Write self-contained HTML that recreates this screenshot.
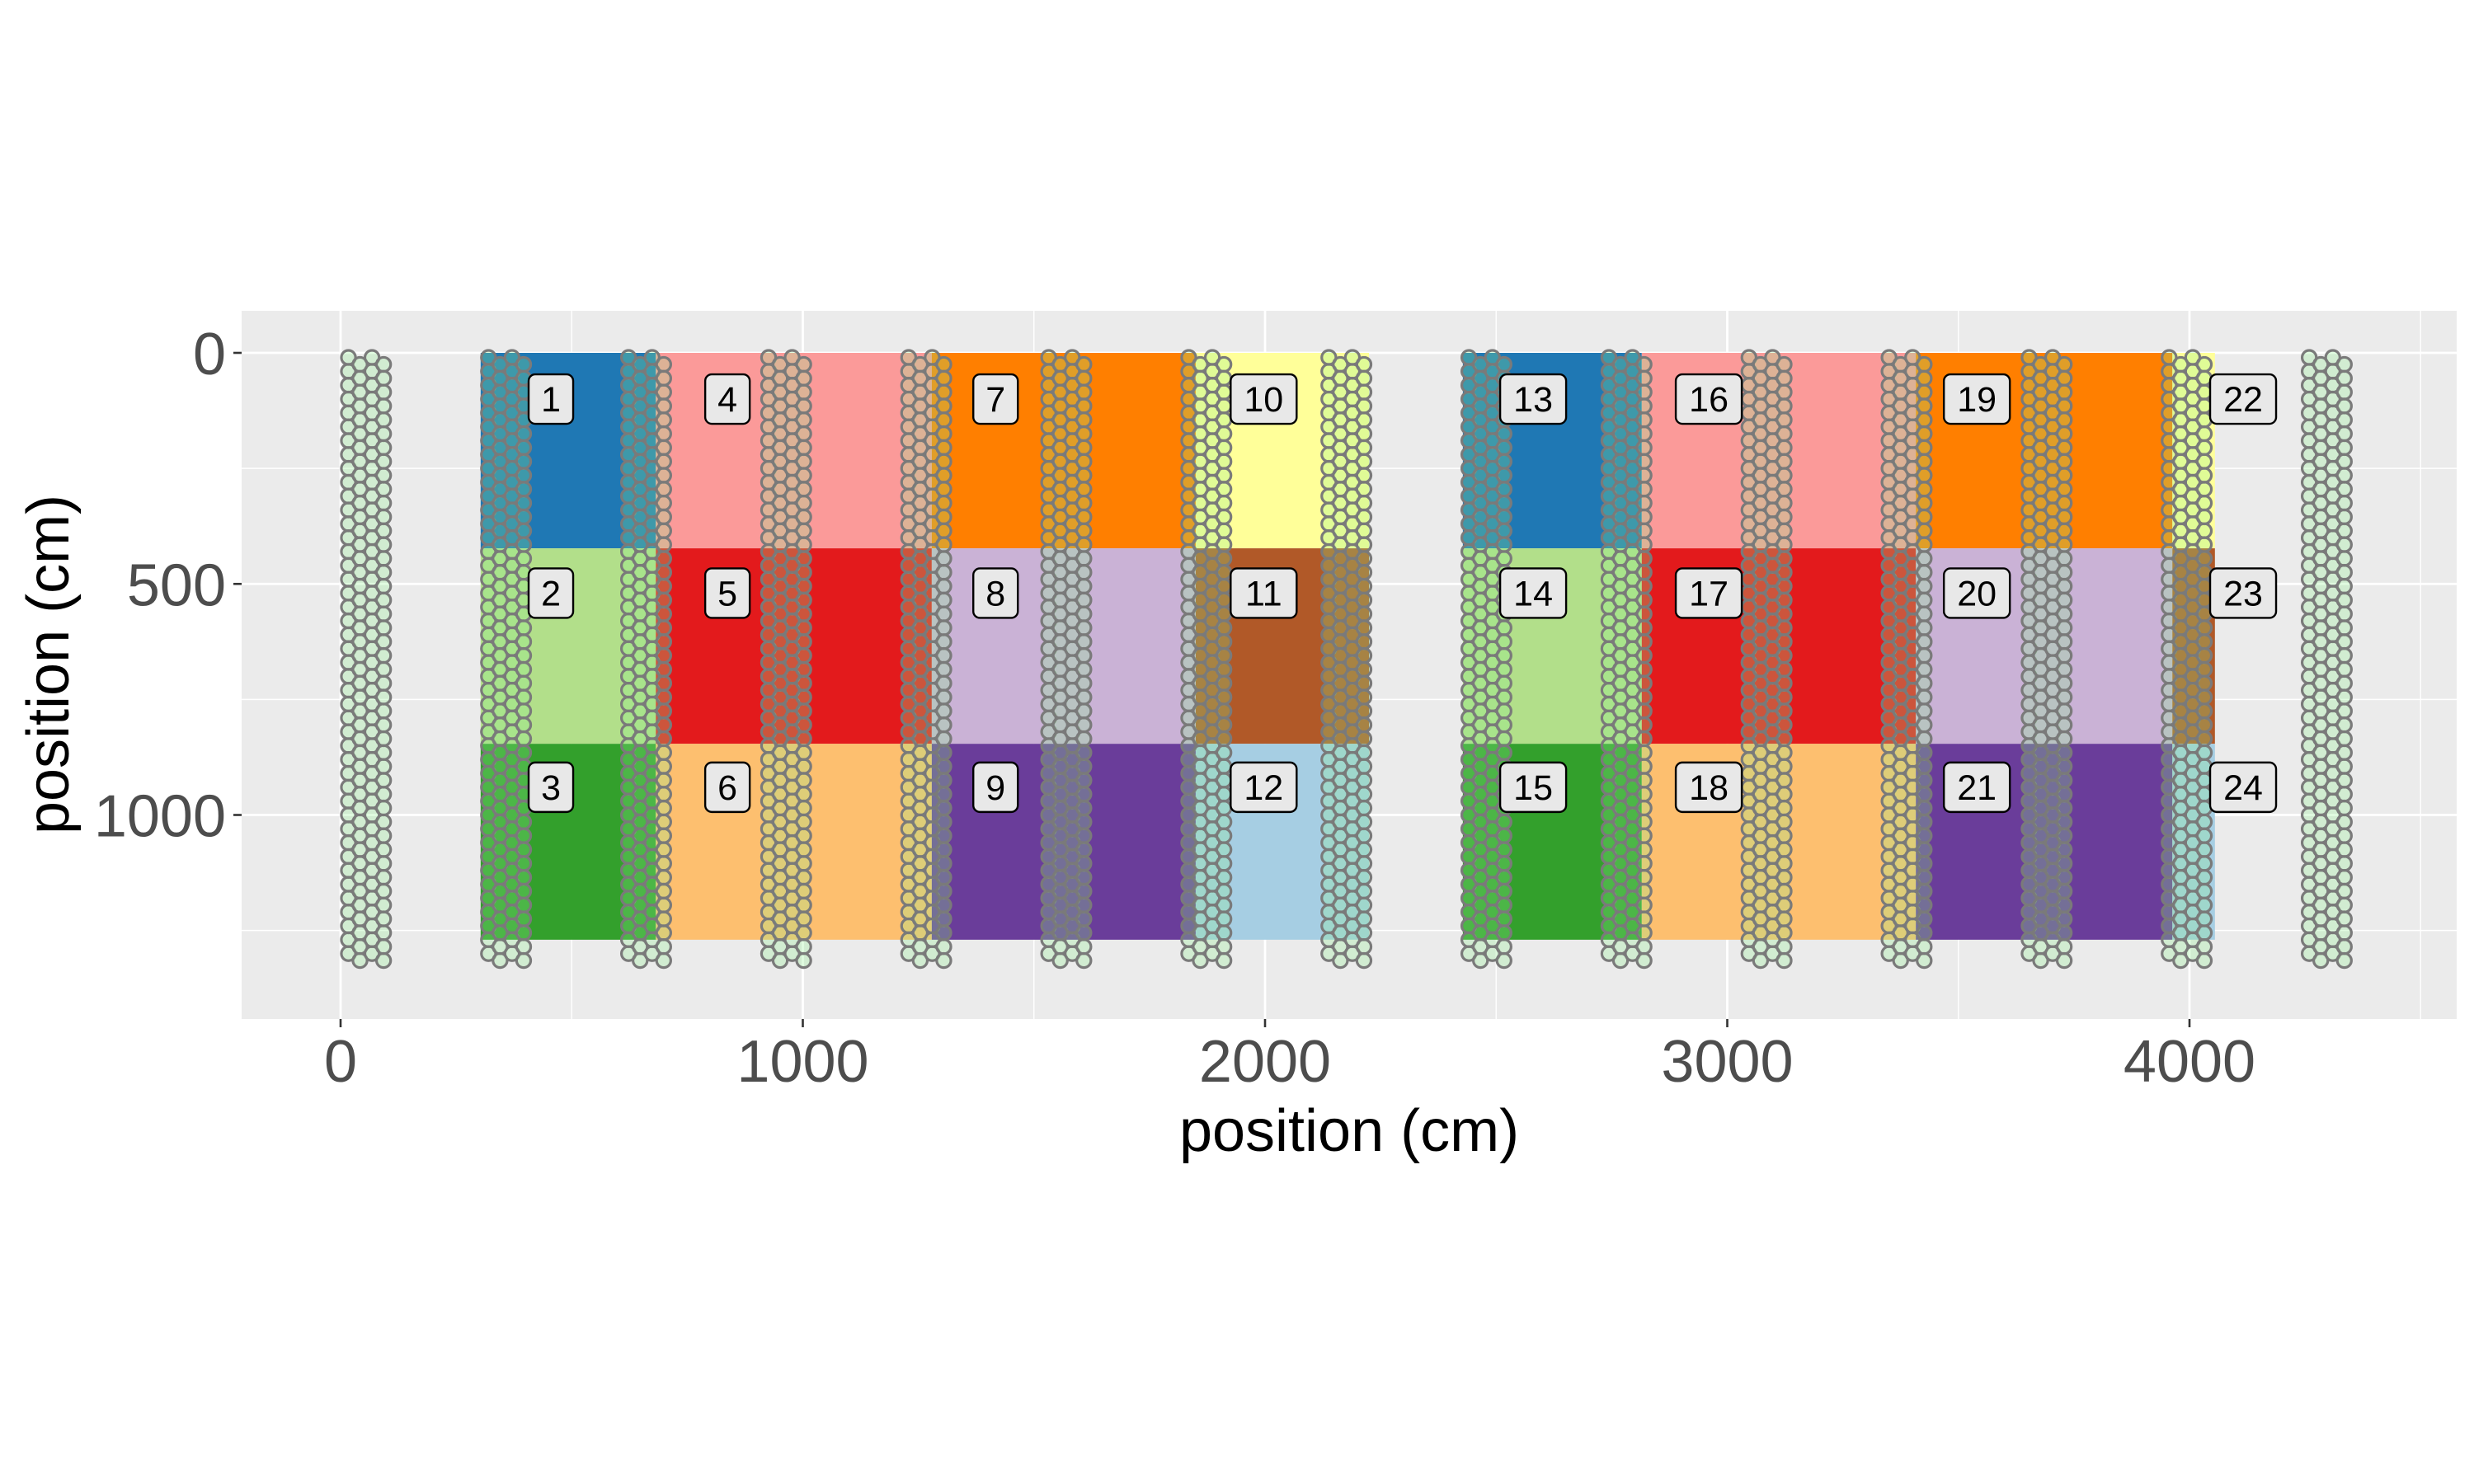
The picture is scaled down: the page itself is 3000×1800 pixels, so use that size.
<!DOCTYPE html>
<html><head><meta charset="utf-8"><style>
html,body{margin:0;padding:0;background:#fff;}
svg{display:block;font-family:"Liberation Sans",sans-serif;}
</style></head><body>
<svg id="chart" width="3000" height="1800" viewBox="0 0 3000 1800"></svg>
<script>
const xBreaks=[0,1000,2000,3000,4000];
const xMinor=[500,1500,2500,3500,4500];
const yBreaks=[0,500,1000];
const yMinor=[250,750,1250];
const plotIds=[1,2,3,4,5,6,7,8,9,10,11,12,13,14,15,16,17,18,19,20,21,22,23,24];
const plotXmin=[303,303,303,682,682,682,1279,1279,1279,1850,1850,1850,2428,2428,2428,2815,2815,2815,3408,3408,3408,3963,3963,3963];
const plotXmax=[682,682,682,1279,1279,1279,1850,1850,1850,2225,2225,2225,2815,2815,2815,3408,3408,3408,3963,3963,3963,4055,4055,4055];
const plotYmin=[0,423,846,0,423,846,0,423,846,0,423,846,0,423,846,0,423,846,0,423,846,0,423,846];
const plotYmax=[423,846,1270,423,846,1270,423,846,1270,423,846,1270,423,846,1270,423,846,1270,423,846,1270,423,846,1270];
const plotColors=["#1F78B4","#B2DF8A","#33A02C","#FB9A99","#E31A1C","#FDBF6F","#FF7F00","#CAB2D6","#6A3D9A","#FFFF99","#B15928","#A6CEE3","#1F78B4","#B2DF8A","#33A02C","#FB9A99","#E31A1C","#FDBF6F","#FF7F00","#CAB2D6","#6A3D9A","#FFFF99","#B15928","#A6CEE3"];
const labelX=[455,455,455,837,837,837,1417,1417,1417,1997,1997,1997,2580,2580,2580,2960,2960,2960,3540,3540,3540,4116,4116,4116];
const labelY=[100,520,940,100,520,940,100,520,940,100,520,940,100,520,940,100,520,940,100,520,940,100,520,940];
const stripCenters=[55,358,661,964,1267,1570,1873,2176,2479,2782,3085,3388,3691,3994,4297];
const subOffsets=[-38,-13,13,38];
const subStart=[10,25,10,25];
const dotSpacing=30;
const dotEnd=1315;

const NS="http://www.w3.org/2000/svg";
const svg=document.getElementById('chart');
const PX=293,PY=377,PW=2686,PH=859;
const sc=0.5605;
const X=v=>413+v*sc;
const Y=v=>428+v*sc;
function mk(tag,attrs,parent){const e=document.createElementNS(NS,tag);for(const k in attrs)e.setAttribute(k,attrs[k]);(parent||svg).appendChild(e);return e;}

const bg=mk('rect',{x:PX,y:PY,width:PW,height:PH,fill:'#EBEBEB'});


xMinor.forEach(v=>{if(X(v)<PX+PW){const l=mk('line',{x1:X(v),x2:X(v),y1:PY,y2:PY+PH,stroke:'#fff','stroke-width':1.4});

}});
yMinor.forEach(v=>{const l=mk('line',{x1:PX,x2:PX+PW,y1:Y(v),y2:Y(v),stroke:'#fff','stroke-width':1.4});

});
xBreaks.forEach(v=>{const l=mk('line',{x1:X(v),x2:X(v),y1:PY,y2:PY+PH,stroke:'#fff','stroke-width':2.8});

});
yBreaks.forEach(v=>{const l=mk('line',{x1:PX,x2:PX+PW,y1:Y(v),y2:Y(v),stroke:'#fff','stroke-width':2.8});

});

plotIds.forEach((id,i)=>{const r=mk('rect',{x:X(plotXmin[i]),y:Y(plotYmin[i]),width:X(plotXmax[i])-X(plotXmin[i]),height:Y(plotYmax[i])-Y(plotYmin[i]),fill:plotColors[i]});

});

stripCenters.forEach((c,s)=>{subOffsets.forEach((o,k)=>{for(let y=subStart[k];y<=dotEnd;y+=dotSpacing){
const d=mk('ellipse',{cx:X(c+o),cy:Y(y),rx:8.6,ry:8.6,fill:'rgba(143,240,143,0.28)',stroke:'#7a7a7a','stroke-width':3.2});

}});});

plotIds.forEach((id,i)=>{const t=String(id);const w=t.length>1?80:54;const h=60;const cx=X(labelX[i]),cy=Y(labelY[i]);
const g=mk('g',{});


mk('rect',{x:cx-w/2,y:cy-h/2,width:w,height:h,rx:8,fill:'#E8E8E8',stroke:'#000','stroke-width':2.4},g);
const tx=mk('text',{x:cx,y:cy+15,'text-anchor':'middle','font-size':43,fill:'#000'},g);tx.textContent=t;});

xBreaks.forEach(v=>{mk('line',{x1:X(v),x2:X(v),y1:PY+PH,y2:PY+PH+10,stroke:'#333','stroke-width':2.6});
const t=mk('text',{x:X(v),y:1312,'text-anchor':'middle','font-size':72,fill:'#4D4D4D'});t.textContent=v;

});
yBreaks.forEach(v=>{mk('line',{x1:PX-10,x2:PX,y1:Y(v),y2:Y(v),stroke:'#333','stroke-width':2.6});
const t=mk('text',{x:274,y:Y(v)+26,'text-anchor':'end','font-size':72,fill:'#4D4D4D'});t.textContent=v;

});
const xt=mk('text',{x:PX+PW/2,y:1396,'text-anchor':'middle','font-size':72,fill:'#000'});xt.textContent='position (cm)';


const yt=mk('text',{x:0,y:0,'text-anchor':'middle','font-size':72,fill:'#000',transform:'translate(83,806) rotate(-90)'});yt.textContent='position (cm)';


</script>
</body></html>
